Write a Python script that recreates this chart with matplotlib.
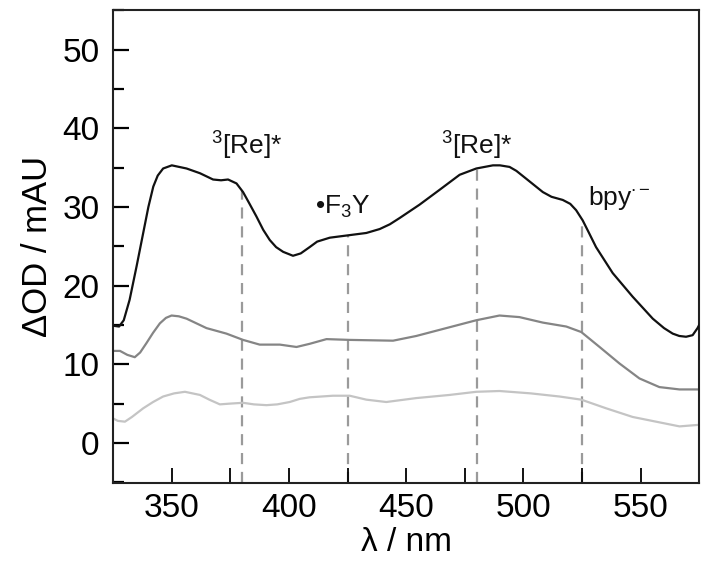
import numpy as np
import matplotlib
matplotlib.use("Agg")
import matplotlib.pyplot as plt
from matplotlib.ticker import MultipleLocator

plt.rcParams['font.family'] = ['Liberation Sans', 'DejaVu Sans']
plt.rcParams['mathtext.fontset'] = 'custom'
plt.rcParams['mathtext.rm'] = 'Liberation Sans'
plt.rcParams['mathtext.it'] = 'Liberation Sans'

# black trace (top)
wl_top = [325, 327.5, 329.5, 332, 335, 337.8, 340, 342.1, 344, 346.3, 350, 356.3, 362, 367.6, 371,
          374, 377.6, 380.4, 383, 386.1, 389, 391.8, 394.5, 397.5, 401.7, 405, 408.8, 412, 417.4,
          425.2, 433, 438.7, 443, 447.2, 455.7, 464.3, 472.8, 479.9, 487, 490, 494.1, 497, 501.2,
          508.3, 512, 516.8, 520, 522.5, 525.3, 528, 531, 538.1, 546.6, 555.2, 560, 563.7, 566.5,
          569.4, 572.2, 574.3, 575]
od_top = [14.9, 14.8, 15.6, 18.2, 22.5, 26.7, 30.0, 32.6, 34.0, 34.9, 35.3, 34.9, 34.3, 33.5, 33.4,
          33.5, 33.0, 31.9, 30.5, 28.8, 27.1, 25.8, 24.9, 24.3, 23.8, 24.1, 24.9, 25.6, 26.1,
          26.4, 26.7, 27.2, 27.8, 28.6, 30.3, 32.2, 34.1, 34.9, 35.3, 35.3, 35.1, 34.6, 33.6,
          31.9, 31.3, 30.9, 30.4, 29.6, 28.3, 26.7, 24.9, 21.6, 18.6, 15.8, 14.6, 13.9, 13.6,
          13.5, 13.7, 14.6, 15.0]

# dark grey trace (middle)
wl_mid = [325, 327.9, 331, 334.2, 336.5, 339.2, 342, 344.9, 347.5, 349.9, 353, 356.3, 364.8, 373.3,
          380.4, 387.5, 396.1, 403.2, 408.8, 416, 425.9, 444.4, 454.3, 467.1, 479.9, 489.8, 498.3,
          508.3, 518.3, 524.7, 532.5, 541, 549.5, 558, 566.6, 575]
od_mid = [11.7, 11.7, 11.2, 10.9, 11.5, 12.7, 14.0, 15.2, 15.9, 16.2, 16.1, 15.8, 14.6, 13.9,
          13.1, 12.5, 12.5, 12.2, 12.6, 13.2, 13.1, 13.0, 13.6, 14.6, 15.6, 16.2, 16.0,
          15.3, 14.8, 14.1, 12.2, 10.1, 8.2, 7.1, 6.8, 6.8]

# light grey trace (bottom)
wl_low = [325, 327, 330, 333, 337.8, 342, 346.3, 351, 355.6, 362, 366, 370.5, 375, 380.4, 385,
          390.4, 395, 400.3, 404.6, 408.8, 418.8, 425.9, 433, 441.5, 454.3, 468.5, 479.9, 489.8,
          503.1, 515.4, 524.7, 535.3, 546.6, 556.6, 566.6, 575]
od_low = [3.1, 2.8, 2.7, 3.3, 4.4, 5.2, 5.9, 6.3, 6.5, 6.1, 5.5, 4.9, 5.0, 5.1, 4.9,
          4.8, 4.9, 5.2, 5.6, 5.8, 6.0, 6.0, 5.5, 5.2, 5.7, 6.1, 6.5, 6.6,
          6.3, 5.9, 5.5, 4.4, 3.3, 2.7, 2.1, 2.3]

marker_wl = [380, 425, 480, 525]
labels = [r'$^{3}$[Re]*', '•F$_{3}$Y', r'$^{3}$[Re]*', r'bpy$^{\bullet-}$']
label_x = [382, 423, 480, 541]
label_y = [37.8, 30.0, 37.8, 31.2]

fig = plt.figure(figsize=(7.12, 5.81), dpi=100)
ax = fig.add_axes([0.159, 0.168, 0.823, 0.814])

ymin, ymax = -5.15, 55.0
tops = np.interp(marker_wl, wl_top, od_top)
for w, t in zip(marker_wl, tops):
    ax.plot([w, w], [ymin, t], color='#9a9a9a', lw=1.6, ls=(0, (5, 3.5)), zorder=1)

ax.plot(wl_low, od_low, color='#c4c4c4', lw=1.6, zorder=2)
ax.plot(wl_mid, od_mid, color='#858585', lw=1.6, zorder=2)
ax.plot(wl_top, od_top, color='#111111', lw=1.6, zorder=3)

for s, x, y in zip(labels, label_x, label_y):
    ax.text(x, y, s, fontsize=19, ha='center', va='center', color='#111111')

ax.set_xlim(325, 575)
ax.set_ylim(ymin, ymax)
ax.xaxis.set_major_locator(MultipleLocator(50))
ax.xaxis.set_minor_locator(MultipleLocator(25))
ax.yaxis.set_major_locator(MultipleLocator(10))
ax.yaxis.set_minor_locator(MultipleLocator(5))
ax.tick_params(axis='x', which='both', direction='in', length=11, width=1.3,
               labelsize=24, pad=7, top=False)
ax.tick_params(axis='y', which='major', direction='in', length=11.5, width=1.6,
               labelsize=24, pad=10, right=False)
ax.tick_params(axis='y', which='minor', direction='in', length=8, width=1.6, right=False)
for sp in ax.spines.values():
    sp.set_linewidth(1.5)
    sp.set_color('#222222')

ax.set_xlabel('λ / nm', fontsize=24, labelpad=2)
ax.set_ylabel('ΔOD / mAU', fontsize=25, labelpad=6)

fig.savefig('out.png', dpi=100)
